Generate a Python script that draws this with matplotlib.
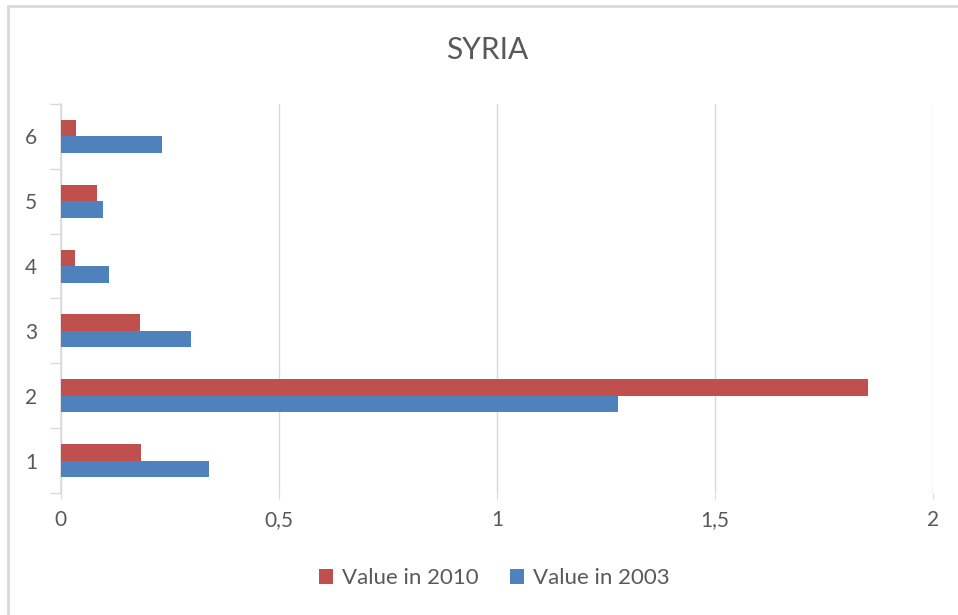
import numpy as np
import matplotlib
matplotlib.use("Agg")
import matplotlib.pyplot as plt
import matplotlib.ticker as mticker
from matplotlib.patches import Rectangle

# ── data ─────────────────────────────────────────────────────────────────────
categories = ["1", "2", "3", "4", "5", "6"]
value_2010 = [0.185, 1.850, 0.182, 0.032, 0.083, 0.035]
value_2003 = [0.339, 1.278, 0.300, 0.112, 0.097, 0.232]
x_ticks = [0, 0.5, 1, 1.5, 2]

# ── style ────────────────────────────────────────────────────────────────────
RED = "#C0504D"
BLUE = "#4F81BD"
TEXT = "#595959"
GRID = "#D9D9D9"
plt.rcParams["font.family"] = ["Lato", "DejaVu Sans"]

fig = plt.figure(figsize=(9.58, 6.15), dpi=100)
ax = fig.add_axes([0.0632, 0.1984, 0.9112, 0.6325])

y = np.arange(len(categories))
h = 0.255
ax.barh(y + h / 2, value_2010, height=h, color=RED, label="Value in 2010", zorder=3)
ax.barh(y - h / 2, value_2003, height=h, color=BLUE, label="Value in 2003", zorder=3)

ax.set_xlim(0, 2)
ax.set_ylim(-0.5, len(categories) - 0.5)
ax.set_xticks(x_ticks)
ax.xaxis.set_major_formatter(
    mticker.FuncFormatter(lambda v, _: f"{v:g}".replace(".", ","))
)
ax.set_yticks(y)
ax.set_yticklabels(categories)
ax.set_yticks(np.arange(-0.5, len(categories)), minor=True)

ax.grid(axis="x", color=GRID, linewidth=1, zorder=0)
for s in ["top", "right", "bottom"]:
    ax.spines[s].set_visible(False)
ax.spines["left"].set_color(GRID)
ax.spines["left"].set_linewidth(1.2)

ax.tick_params(axis="y", which="major", length=0, pad=17, labelsize=15, labelcolor=TEXT)
ax.tick_params(axis="y", which="minor", length=8, color=GRID, width=1)
ax.tick_params(axis="x", which="major", length=4, color=GRID, pad=8,
               labelsize=15, labelcolor=TEXT)

fig.text(0.508, 0.918, "SYRIA", ha="center", va="center", fontsize=21.5, color=TEXT)

handles, labels = ax.get_legend_handles_labels()
fig.legend(handles, labels, loc="center", bbox_to_anchor=(0.516, 0.06), ncol=2,
           frameon=False, fontsize=16, labelcolor=TEXT, handlelength=0.65,
           handleheight=0.65, handletextpad=0.4, columnspacing=1.4)

# chart border (only left and top edges fall inside the image)
fig.patches.append(Rectangle((8 / 958, -0.1), 1.2, (615 - 6) / 615 + 0.1,
                             transform=fig.transFigure, fill=False,
                             edgecolor=GRID, linewidth=2))

fig.savefig("out.png", dpi=100)
